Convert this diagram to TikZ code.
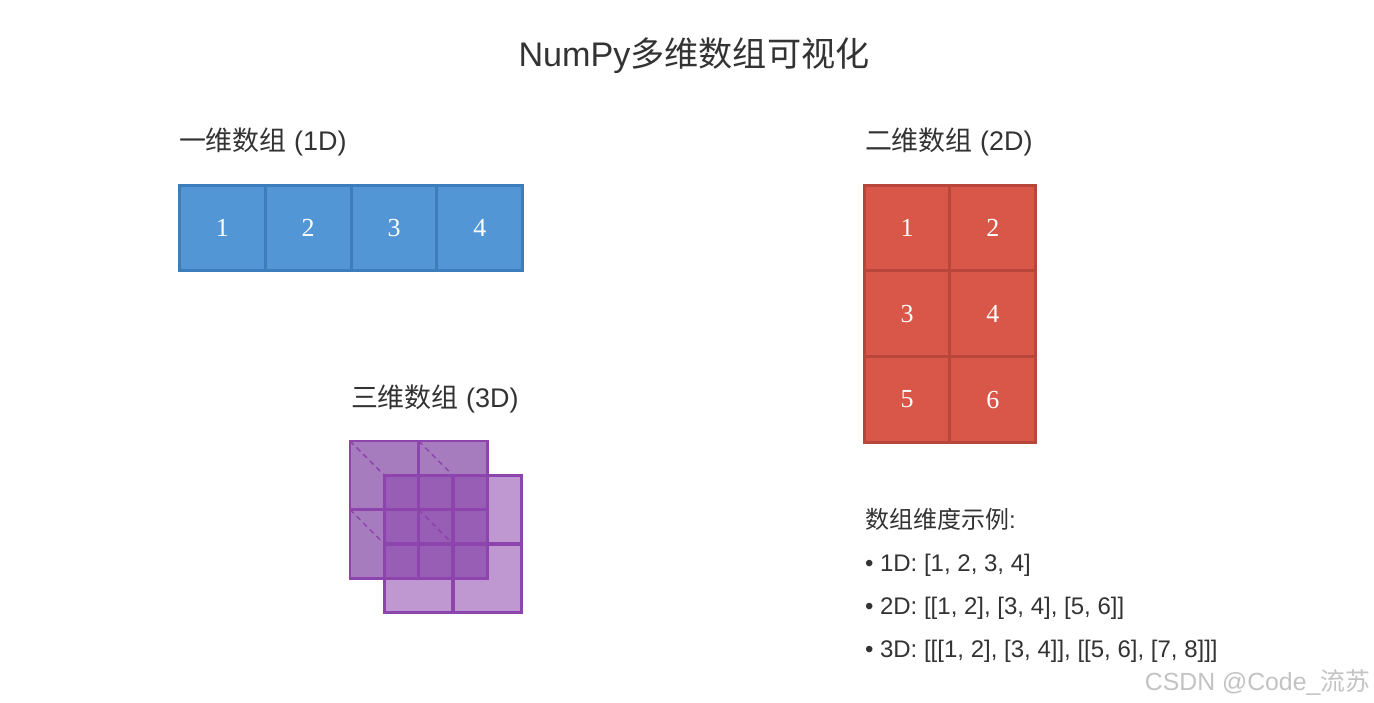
\documentclass[tikz,border=0pt]{standalone}
\usepackage{fontspec}
\usepackage{xcolor}
\usepackage{tikz}
\setmainfont{Liberation Sans}
\newfontfamily\cjk{Noto Sans CJK SC}
\newfontfamily\numfont{Liberation Serif}

\begin{document}
\begin{tikzpicture}[x=0.75pt, y=-0.75pt,
  every node/.style={inner sep=0pt, outer sep=0pt},
  cellA/.style={draw=blueEdge, fill=blueFill, line width=2.2pt, minimum width=64.35pt, minimum height=64.35pt, text=white, font=\numfont\fontsize{19.5}{19.5}\selectfont},
  cellB/.style={draw=redEdge, fill=redFill, line width=2.2pt, minimum width=64.35pt, minimum height=64.35pt, text=white, font=\numfont\fontsize{19.5}{19.5}\selectfont},
  backcell/.style={draw=purpEdge, fill=purpBack, line width=2.2pt, minimum width=51.45pt, minimum height=51.45pt},
  frontcell/.style={draw=purpEdge, fill=purpEdge, fill opacity=0.55, draw opacity=1, line width=2.4pt, minimum width=51.45pt, minimum height=51.45pt},
  depth/.style={draw=purpEdge, line width=1.1pt, dash pattern=on 4pt off 3pt},
  lab/.style={anchor=base west, text=ink, font=\fontsize{20.2}{21}\selectfont},
  leg/.style={anchor=base west, text=ink, font=\fontsize{18}{19}\selectfont}]
  \definecolor{ink}{RGB}{51,51,51}
  \definecolor{blueFill}{RGB}{82,150,214}
  \definecolor{blueEdge}{RGB}{60,126,188}
  \definecolor{redFill}{RGB}{216,87,72}
  \definecolor{redEdge}{RGB}{184,70,58}
  \definecolor{purpBack}{RGB}{166,124,190}
  \definecolor{purpEdge}{RGB}{142,68,173}
  \definecolor{mark}{RGB}{195,195,195}

  \path[fill=white] (0,0) rectangle (1374,703);
  \useasboundingbox (0,0) rectangle (1374,703);

  % title
  \node[anchor=base, text=ink, font=\fontsize{25.6}{26}\selectfont] (title) at (694,66) {NumPy{\cjk 多维数组可视化}};

  % 1D
  \node[lab] (lab1) at (179,150) {{\cjk 一维数组} (1D)};
  \node[cellA] (a1) at (222.4,228) {1};
  \node[cellA] (a2) at (308.2,228) {2};
  \node[cellA] (a3) at (394.0,228) {3};
  \node[cellA] (a4) at (479.8,228) {4};

  % 2D
  \node[lab] (lab2) at (865,150) {{\cjk 二维数组} (2D)};
  \node[cellB] (m11) at (907.0,228.0) {1};
  \node[cellB] (m12) at (992.8,228.0) {2};
  \node[cellB] (m21) at (907.0,313.8) {3};
  \node[cellB] (m22) at (992.8,313.8) {4};
  \node[cellB] (m31) at (907.0,399.6) {5};
  \node[cellB] (m32) at (992.8,399.6) {6};

  % 3D
  \node[lab] (lab3) at (351,407) {{\cjk 三维数组} (3D)};
  \node[backcell] (b11) at (384.3,475.3) {};
  \node[backcell] (b12) at (452.9,475.3) {};
  \node[backcell] (b21) at (384.3,543.9) {};
  \node[backcell] (b22) at (452.9,543.9) {};
  \node[frontcell] (f11) at (418.6,509.6) {};
  \node[frontcell] (f12) at (487.2,509.6) {};
  \node[frontcell] (f21) at (418.6,578.2) {};
  \node[frontcell] (f22) at (487.2,578.2) {};
  \draw[depth] (b11.north west) -- (f11.north west);
  \draw[depth] (b12.north west) -- (f12.north west);
  \draw[depth] (b21.north west) -- (f21.north west);
  \draw[depth] (b22.north west) -- (f22.north west);

  % examples
  \node[leg] (ex0) at (865,528) {{\cjk 数组维度示例}:};
  \node[leg] (ex1) at (865,571) {• 1D: [1, 2, 3, 4]};
  \node[leg] (ex2) at (865,614) {• 2D: [[1, 2], [3, 4], [5, 6]]};
  \node[leg] (ex3) at (865,657) {• 3D: [[[1, 2], [3, 4]], [[5, 6], [7, 8]]]};

  \node[anchor=base east, text=mark, font=\fontsize{18.6}{19}\selectfont] (wm) at (1370,690) {CSDN @Code\_{\cjk 流苏}};
\end{tikzpicture}
\end{document}
